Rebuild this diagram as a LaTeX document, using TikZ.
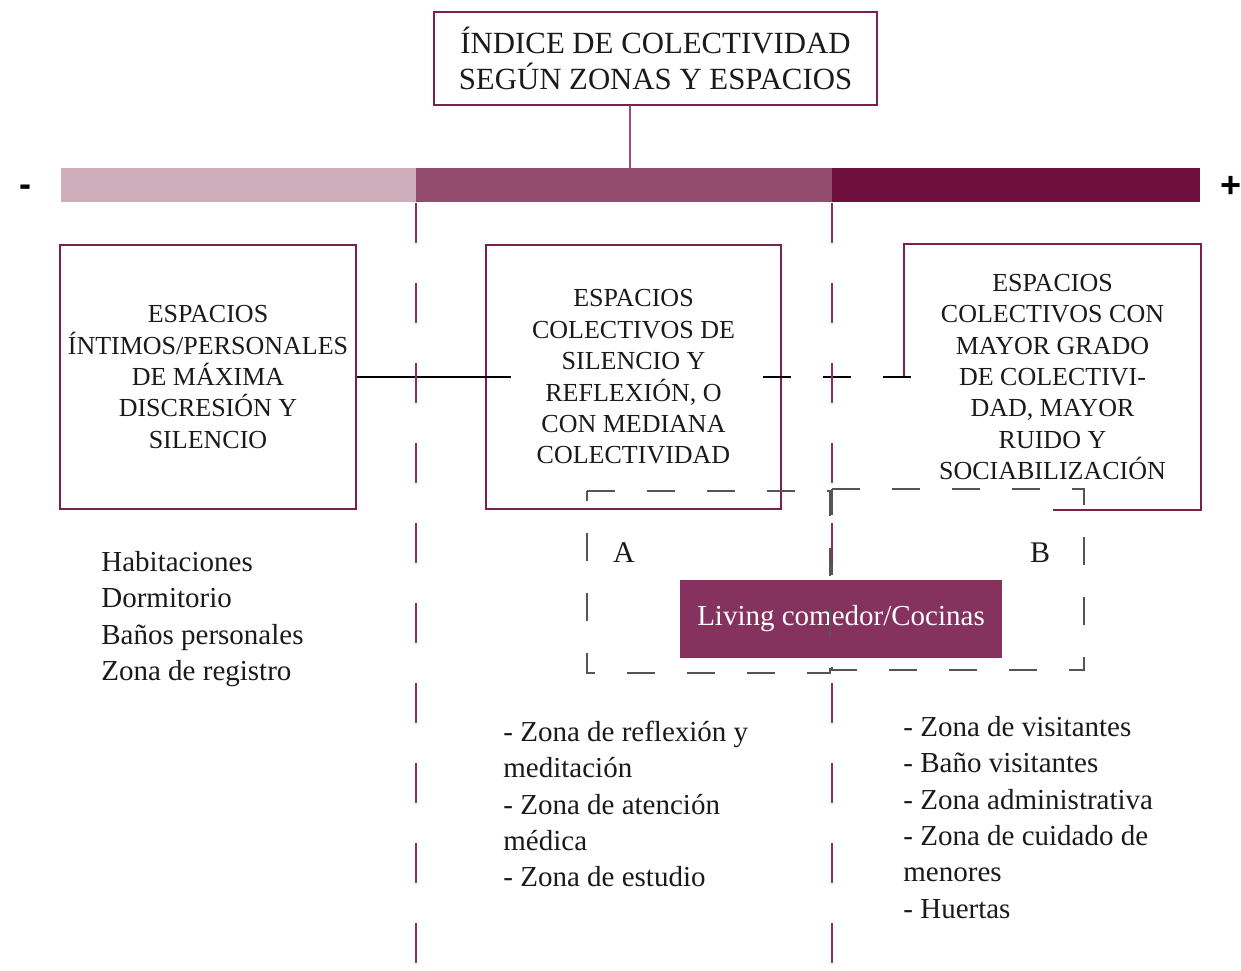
\documentclass[tikz,border=0pt]{standalone}
\usepackage{fontspec}
\setmainfont{Liberation Serif}
\newfontfamily\signfont{Liberation Sans}
\definecolor{boxc}{HTML}{7A1F4E}
\definecolor{txt}{HTML}{1A1A1A}
\definecolor{barA}{HTML}{CFAEBC}
\definecolor{barB}{HTML}{944C6E}
\definecolor{barC}{HTML}{6E0E3D}
\definecolor{vline}{HTML}{8C2D5C}
\definecolor{stemc}{HTML}{9E4A84}
\definecolor{zgray}{HTML}{555555}
\definecolor{livingc}{HTML}{86325E}
\begin{document}
\begin{tikzpicture}[x=0.5pt,y=-0.5pt,
  frame/.style={draw=boxc, line width=1pt, inner sep=0pt, align=center, text=txt,
    font=\fontsize{13}{15.7}\selectfont},
  bigbox/.style={frame, minimum width=148pt, minimum height=132pt},
  seg/.style={anchor=north west, inner sep=0pt, minimum height=17pt},
  stem/.style={draw=stemc, line width=0.8pt},
  vdash/.style={draw=vline, line width=1pt, dash pattern=on 20pt off 20pt},
  conn/.style={draw=black, line width=0.8pt},
  zone/.style={draw=zgray, line width=0.7pt, dash pattern=on 14pt off 16pt},
  listtxt/.style={align=left, anchor=north west, inner sep=0pt, text=txt,
    font=\fontsize{14.5}{18.2}\selectfont},
  lbl/.style={inner sep=0pt, text=txt, font=\fontsize{15}{18}\selectfont},
  sign/.style={inner sep=0pt, font=\signfont\bfseries\fontsize{18}{20}\selectfont}
]
\useasboundingbox (0,0) rectangle (1241,970);

% title
\node[frame, minimum width=221.5pt, minimum height=46.5pt,
  font=\fontsize{15.4}{18}\selectfont] (title) at (655.5,58.5)
  {ÍNDICE DE COLECTIVIDAD\\SEGÚN ZONAS Y ESPACIOS};

% bar
\node[seg, fill=barA, minimum width=177.5pt] (bar1) at (61,168) {};
\node[seg, fill=barB, minimum width=208pt] (bar2) at (416,168) {};
\node[seg, fill=barC, minimum width=184pt] (bar3) at (832,168) {};
\draw[stem] ([xshift=-12.75pt]title.south) -- ([xshift=-12.75pt]title.south |- bar2.north);
\node[sign, anchor=base] (minus) at (25,196) {-};
\node[sign, anchor=base] (plus) at (1231,197) {+};

% boxes
\node[bigbox] (left) at (208,377)
  {ESPACIOS\\ÍNTIMOS/PERSONALES\\DE MÁXIMA\\DISCRESIÓN Y\\SILENCIO};
\node[bigbox, minimum width=147.5pt] (mid) at (633.5,377)
  {ESPACIOS\\COLECTIVOS DE\\SILENCIO Y\\REFLEXIÓN, O\\CON MEDIANA\\COLECTIVIDAD};
\node[bigbox, draw=none, minimum width=147.5pt] (right) at (1052.5,377)
  {ESPACIOS\\COLECTIVOS CON\\MAYOR GRADO\\DE COLECTIVI-\\DAD, MAYOR\\RUIDO Y\\SOCIABILIZACIÓN};
\draw[draw=boxc, line width=1pt] (right.west) -- (right.north west) -- (right.north east)
  -- (right.south east) -- (right.south);

% connectors
\draw[conn] (left.east) -- ([xshift=13pt]mid.west);
\draw[conn, dash pattern=on 14pt off 16pt] ([xshift=-9.5pt]mid.east) -- ([xshift=3.5pt]right.west);

% living
\node[fill=livingc, text=white, minimum width=161pt, minimum height=39pt, inner sep=0pt,
  font=\fontsize{14.5}{17}\selectfont] (living) at (841,619) {\raisebox{1pt}{Living comedor/Cocinas}};

% zones
\coordinate (A1) at (587,491); \coordinate (A2) at (830,673);
\coordinate (B1) at (832,489); \coordinate (B2) at (1084,670);
\draw[zone] (A1) -- (A1 -| A2) -- (A2) -- (A2 -| A1) -- cycle;
\draw[zone] (B1) -- (B1 -| B2) -- (B2) -- (B2 -| B1) -- cycle;
\node[lbl] (la) at (624,553) {A};
\node[lbl] (lb) at (1040,553) {B};

% vertical dashed dividers
\coordinate (bottom) at (0,970);
\draw[vdash] (bar2.south west) -- (bar2.south west |- bottom);
\draw[vdash] (bar3.south west) -- (bar3.south west |- bottom);

% lists
\node[listtxt] (list1) at (101,545.5)
  {\strut Habitaciones\\Dormitorio\\Baños personales\\Zona de registro};
\node[listtxt] (list2) at (503,715.5)
  {\strut - Zona de reflexión y\\meditación\\- Zona de atención\\médica\\- Zona de estudio};
\node[listtxt] (list3) at (903,710.5)
  {\strut - Zona de visitantes\\- Baño visitantes\\- Zona administrativa\\- Zona de cuidado de\\menores\\- Huertas};
\end{tikzpicture}
\end{document}
